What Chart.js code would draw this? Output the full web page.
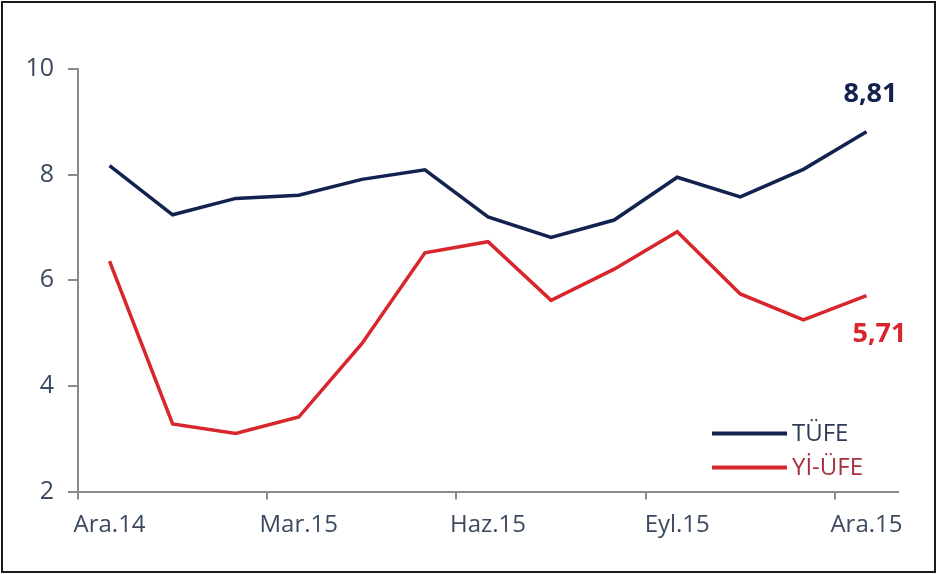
<!DOCTYPE html>
<html>
<head>
<meta charset="utf-8">
<script src="https://cdn.jsdelivr.net/npm/chart.js@4.4.1/dist/chart.umd.min.js"></script>
<style>
  html, body { margin: 0; padding: 0; background: #fff; }
  #wrap { position: absolute; left: 0; top: 0; width: 938px; height: 574px; }
</style>
</head>
<body>
<div id="wrap"><canvas id="c" width="938" height="574"></canvas></div>
<script>
const categories = ["Ara.14","Oca.15","Şub.15","Mar.15","Nis.15","May.15","Haz.15","Tem.15","Ağu.15","Eyl.15","Eki.15","Kas.15","Ara.15"];
const tufe   = [8.17, 7.24, 7.55, 7.61, 7.91, 8.09, 7.20, 6.81, 7.14, 7.95, 7.58, 8.10, 8.81];
const yiufe  = [6.36, 3.28, 3.10, 3.41, 4.80, 6.52, 6.73, 5.62, 6.21, 6.92, 5.74, 5.25, 5.71];
const seriesNames = ["TÜFE", "Yİ-ÜFE"];
const endLabels = ["8,81", "5,71"];
const yTicks = [2, 4, 6, 8, 10];

const NAVY = "#14224f";
const RED = "#d7262c";
const AXIS = "#8a8a8a";
const TXT = "#3b4a5e";
const FONT = "'Open Sans', sans-serif";

const framePlugin = {
  id: "frame",
  beforeDraw(chart) {
    const ctx = chart.ctx;
    ctx.save();
    ctx.fillStyle = "#fff";
    ctx.fillRect(0, 0, chart.width, chart.height);
    ctx.restore();
  },
  afterDraw(chart) {
    const ctx = chart.ctx;
    ctx.save();
    ctx.strokeStyle = "#1a1a1a";
    ctx.lineWidth = 2;
    ctx.strokeRect(2, 2, chart.width - 5, chart.height - 4);
    ctx.restore();
  }
};

const endLabelPlugin = {
  id: "endLabels",
  afterDatasetsDraw(chart) {
    const ctx = chart.ctx;
    ctx.save();
    ctx.font = "bold 27px " + FONT;
    ctx.textAlign = "center";
    ctx.textBaseline = "middle";
    const offs = [[4, -38], [13, 39]];
    chart.data.datasets.forEach((ds, i) => {
      const meta = chart.getDatasetMeta(i);
      const pt = meta.data[meta.data.length - 1];
      ctx.fillStyle = ds.borderColor;
      ctx.fillText(endLabels[i], pt.x + offs[i][0], pt.y + offs[i][1]);
    });
    ctx.restore();
  }
};

const legendPlugin = {
  id: "innerLegend",
  afterDatasetsDraw(chart) {
    const ctx = chart.ctx;
    const ca = chart.chartArea;
    const x0 = ca.right - 186;
    const x1 = x0 + 75;
    const rows = [ca.bottom - 58, ca.bottom - 24];
    const textColors = ["#2c3c55", "#a8303f"];
    ctx.save();
    ctx.font = "24px " + FONT;
    ctx.textAlign = "left";
    ctx.textBaseline = "middle";
    chart.data.datasets.forEach((ds, i) => {
      ctx.strokeStyle = ds.borderColor;
      ctx.lineWidth = 4;
      ctx.beginPath();
      ctx.moveTo(x0, rows[i]);
      ctx.lineTo(x1, rows[i]);
      ctx.stroke();
      ctx.fillStyle = textColors[i];
      ctx.fillText(ds.label, x1 + 5, rows[i] + 1);
    });
    ctx.restore();
  }
};

new Chart(document.getElementById("c"), {
  type: "line",
  data: {
    labels: categories,
    datasets: [
      { label: seriesNames[0], data: tufe, borderColor: NAVY, borderWidth: 3.5, pointRadius: 0, tension: 0, fill: false },
      { label: seriesNames[1], data: yiufe, borderColor: RED, borderWidth: 3.5, pointRadius: 0, tension: 0, fill: false }
    ]
  },
  options: {
    responsive: false,
    animation: false,
    layout: { padding: { left: 0, right: 40, top: 69, bottom: 0 } },
    plugins: { legend: { display: false }, tooltip: { enabled: false } },
    scales: {
      x: {
        type: "category",
        offset: true,
        grid: {
          offset: true, drawOnChartArea: false, lineWidth: 2, tickLength: 8,
          color: (c) => (typeof c.index === "number" && c.index < categories.length && c.index % 3 === 0) ? AXIS : "rgba(0,0,0,0)"
        },
        border: { display: true, color: AXIS, width: 2 },
        ticks: {
          autoSkip: false, maxRotation: 0, padding: 11,
          color: TXT, font: { family: FONT, size: 24 },
          callback: (v, i) => (i % 3 === 0 ? categories[i] : "")
        },
        afterFit: (s) => { s.height = 82.5; }
      },
      y: {
        min: 2, max: 10,
        grid: { drawOnChartArea: false, color: AXIS, lineWidth: 2, tickLength: 10 },
        border: { display: true, color: AXIS, width: 2 },
        afterBuildTicks: (s) => { s.ticks = yTicks.map(v => ({ value: v })); },
        ticks: { padding: 14, color: TXT, font: { family: FONT, size: 25 } },
        afterFit: (s) => { s.width = 78; }
      }
    }
  },
  plugins: [framePlugin, endLabelPlugin, legendPlugin]
});
</script>
</body>
</html>
